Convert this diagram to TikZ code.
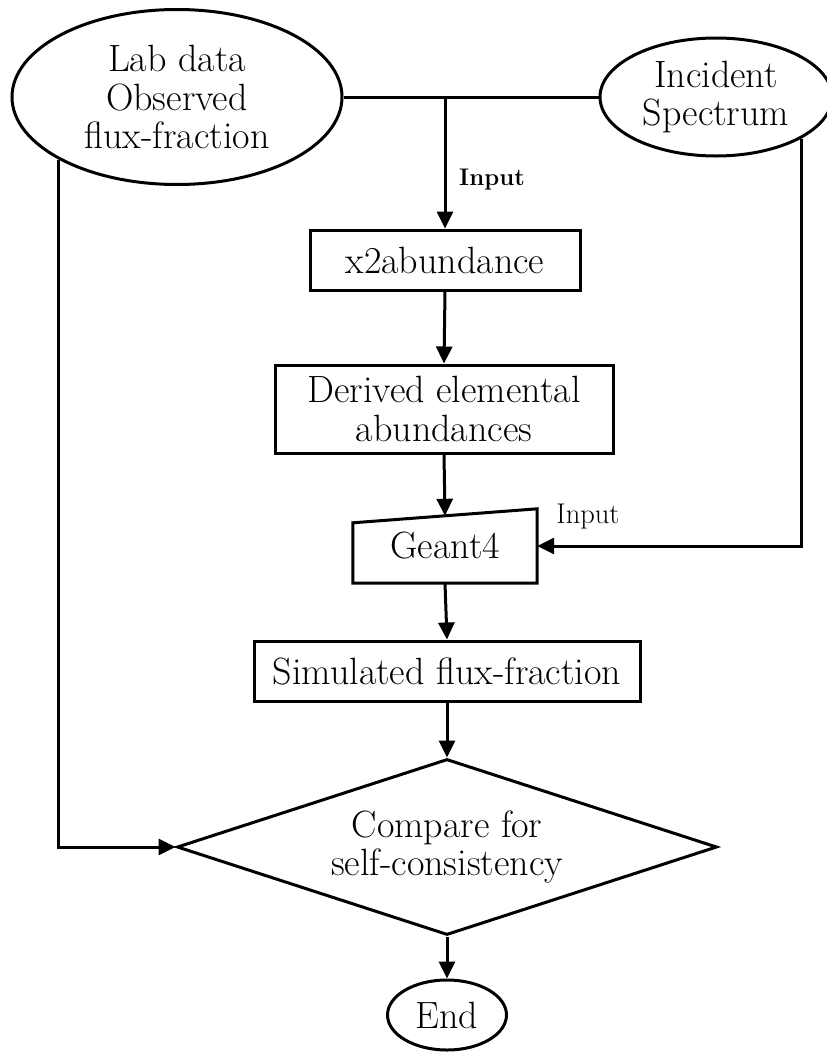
\documentclass[tikz,border=0pt]{standalone}
\usetikzlibrary{arrows.meta,shapes.geometric,calc}
\begin{document}
\begin{tikzpicture}[x=1pt,y=-1pt,
  every node/.style={font=\fontsize{38}{38.5}\selectfont, align=center, inner sep=0pt},
  line/.style={line width=3pt},
  arr/.style={line width=3pt, -{Triangle[length=17pt,width=16pt]}},
  ell/.style={draw, line width=3pt, ellipse},
  box/.style={draw, line width=3pt, rectangle},
  lbl/.style={font=\fontsize{28.5}{30}\selectfont},
  blbl/.style={font=\fontsize{24}{28}\selectfont\bfseries}]
\useasboundingbox (0,0) rectangle (827,1052);
% nodes
\node[ell, minimum width=330pt, minimum height=175pt] (lab) at (177,97) {Lab data\\Observed\\flux-fraction};
\node[ell, minimum width=232pt, minimum height=118pt] (inc) at (716,97) {Incident\\Spectrum};
\node[box, minimum width=270pt, minimum height=60pt] (x2) at (445,260) {x2abundance};
\node[box, minimum width=338pt, minimum height=88pt] (der) at (444,409) {Derived elemental\\abundances};
\node[minimum width=184pt, minimum height=74pt] (g4) at (445,546) {Geant4};
\draw[line, line join=miter] (g4.south west) -- ($(g4.north west)+(0,14)$) -- (g4.north east) -- (g4.south east) -- cycle;
\coordinate (g4top) at ($(g4.north)+(0,7)$);
\node[box, minimum width=386pt, minimum height=60pt] (sim) at (447,671) {Simulated flux-fraction};
\node[draw, line width=3pt, diamond, aspect=3.07, minimum width=540pt, minimum height=176pt] (cmp) at (447,847) {Compare for\\self-consistency};
\node[ell, minimum width=119pt, minimum height=70pt] (end) at (447,1015) {End};
% labels
\node[blbl] (in1) at (492,180) {Input};
\node[lbl] (in2) at (588,517) {Input};
% connectors
\draw[line] (lab.east) -- (inc.west);
\draw[arr] (x2.north |- lab.east) -- (x2.north);
\draw[arr] (x2.south) -- (der.north);
\draw[arr] (der.south) -- (g4top);
\draw[arr] (g4.south) -- (sim.north);
\draw[arr] (sim.south) -- (cmp.north);
\draw[arr] (cmp.south) -- (end.north);
\draw[arr] (lab.208.2) |- (cmp.west);
\draw[arr] (inc.334.7) |- (g4.east);
\end{tikzpicture}
\end{document}
